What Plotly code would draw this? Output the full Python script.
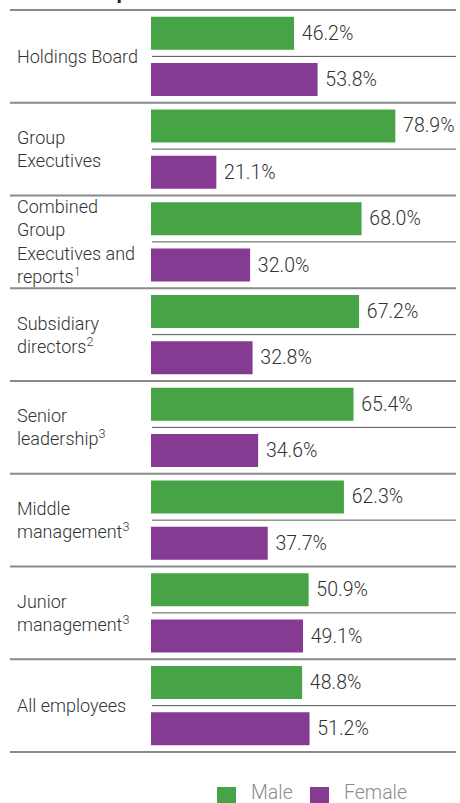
import plotly.graph_objects as go

categories = [
    "Holdings Board",
    "Group<br>Executives",
    "Combined<br>Group<br>Executives and<br>reports<sup>1</sup>",
    "Subsidiary<br>directors<sup>2</sup>",
    "Senior<br>leadership<sup>3</sup>",
    "Middle<br>management<sup>3</sup>",
    "Junior<br>management<sup>3</sup>",
    "All employees",
]
series_names = ["Male", "Female"]
male = [46.2, 78.9, 68.0, 67.2, 65.4, 62.3, 50.9, 48.8]
female = [53.8, 21.1, 32.0, 32.8, 34.6, 37.7, 49.1, 51.2]

GREEN = "#46a346"
PURPLE = "#853b92"
FONT = "Roboto Light, Roboto, Liberation Sans, sans-serif"
W, H = 460, 803
L, R, T, B = 151, 4, 10, 51
pw = W - L - R
ph = H - T - B


def px_x(x):
    return (x - L) / pw


def px_y(y):
    return 1 - (y - T) / ph


fig = go.Figure()
for name, vals, col in zip(series_names, [male, female], [GREEN, PURPLE]):
    fig.add_trace(go.Bar(
        name=name, y=categories, x=vals, orientation="h",
        marker=dict(color=col, line=dict(width=0)),
        texttemplate="\u00a0%{x:.1f}%", textposition="outside",
        textfont=dict(family=FONT, size=19.5, color="#333333"),
        constraintext="none", cliponaxis=False, hoverinfo="skip",
        showlegend=False,
    ))

n = len(categories)
shapes = []
for i in range(n + 1):
    yp = 1 - i / n
    shapes.append(dict(type="line", xref="paper", yref="paper", x0=px_x(10), x1=1,
                       y0=yp, y1=yp, line=dict(color="#8a8a8a", width=2)))
for i in range(n):
    yp = 1 - (i + 0.5) / n
    shapes.append(dict(type="line", xref="paper", yref="paper", x0=px_x(152), x1=1,
                       y0=yp, y1=yp, line=dict(color="#555555", width=1)))

annotations = []
for c in categories:
    annotations.append(dict(text=c, x=px_x(15), xref="paper", y=c, yref="y",
                            xanchor="left", align="left", yanchor="middle", showarrow=False,
                            font=dict(family=FONT, size=18, color="#333333")))
annotations.append(dict(text="<b>Gender representation</b>", x=px_x(15), xref="paper",
                        y=1 + 5 / ph, yref="paper", xanchor="left", yanchor="bottom",
                        showarrow=False,
                        font=dict(family="Liberation Sans, Arial, sans-serif", size=21, color="#222222")))

# legend: swatch + label
legend_items = list(zip(series_names, [GREEN, PURPLE], [217, 310]))
for name, col, x0 in legend_items:
    shapes.append(dict(type="rect", xref="paper", yref="paper",
                       x0=px_x(x0), x1=px_x(x0 + 19), y0=px_y(806), y1=px_y(787),
                       fillcolor=col, line=dict(width=0)))
    annotations.append(dict(text=name, x=px_x(x0 + 32), xref="paper", y=px_y(793), yref="paper",
                            xanchor="left", yanchor="middle", showarrow=False,
                            font=dict(family=FONT, size=19.5, color="#8c8c8c")))

fig.update_layout(
    width=W, height=H,
    margin=dict(l=L, r=R, t=T, b=B, pad=0, autoexpand=False),
    paper_bgcolor="white", plot_bgcolor="white",
    barmode="group", bargap=0, bargroupgap=0.29,
    xaxis=dict(range=[0, 98.5], visible=False, fixedrange=True),
    yaxis=dict(range=[n - 0.5, -0.5], showticklabels=False, showgrid=False,
               zeroline=False, showline=False, ticks="", fixedrange=True),
    shapes=shapes, annotations=annotations,
    showlegend=False,
)

fig.write_html("out.html", config={"displayModeBar": False},
               post_script="document.body.style.margin='0px';")
